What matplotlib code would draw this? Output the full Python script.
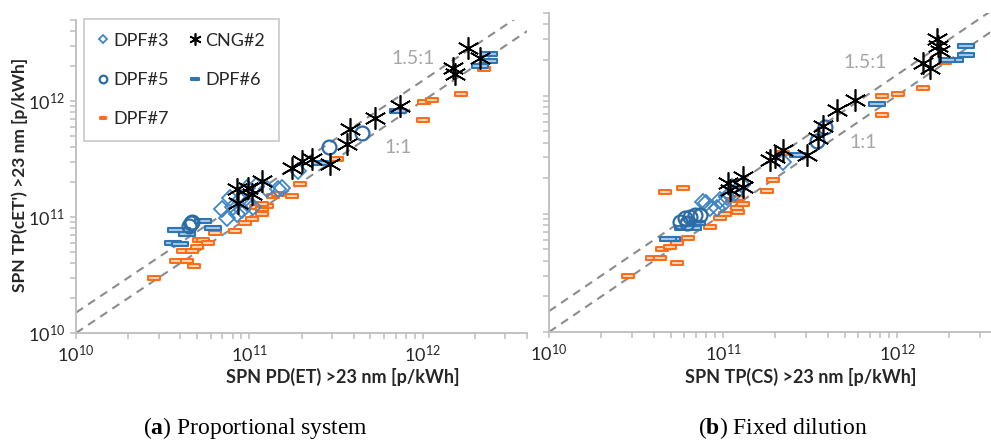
import numpy as np
import matplotlib
matplotlib.use("Agg")
import matplotlib.pyplot as plt
from matplotlib.path import Path
from matplotlib.ticker import LogLocator, LogFormatterSciNotation, NullFormatter

plt.rcParams["font.family"] = ["Lato", "DejaVu Sans"]
plt.rcParams["mathtext.fontset"] = "custom"
plt.rcParams["mathtext.default"] = "regular"
plt.rcParams["mathtext.bf"] = "Liberation Serif:bold"

# ---- (a) proportional system: x = PD(ET), y = TP(cET') ----
a_cng2_x = [1.82e12, 2.13e12, 1.49e12, 1.53e12, 7.36e11, 5.28e11, 3.79e11, 3.65e11,
            2.91e11, 2.29e11, 2.01e11, 1.76e11, 1.18e11, 9.8e10, 1.03e11, 8.5e10, 8.6e10]
a_cng2_y = [2.85e12, 2.34e12, 1.92e12, 1.71e12, 9.06e11, 7.15e11, 5.75e11, 4.28e11,
            2.88e11, 3.18e11, 3.05e11, 2.66e11, 2.06e11, 1.79e11, 1.59e11, 1.76e11, 1.33e11]
a_dpf3_x = [7.4e10, 8.0e10, 8.8e10, 7.7e10, 9.7e10, 1.1e11, 1.26e11, 1.46e11,
            9.7e10, 1.05e11, 8.5e10, 9.1e10, 1.9e11, 1.54e11, 7.0e10]
a_dpf3_y = [9.9e10, 1.21e11, 1.39e11, 1.47e11, 1.79e11, 1.86e11, 1.76e11, 1.76e11,
            1.31e11, 1.21e11, 1.07e11, 1.14e11, 2.51e11, 1.79e11, 1.18e11]
a_dpf5_x = [4.5e10, 4.6e10, 4.7e10, 2.9e11, 4.45e11]
a_dpf5_y = [8.3e10, 8.8e10, 9.0e10, 4.0e11, 5.3e11]
a_dpf6_x = [3.63e10, 3.97e10, 4.08e10, 3.8e10, 4.35e10, 5.4e10, 6.2e10,
            2.55e11, 7.18e11, 2.43e12, 2.43e12, 2.13e12]
a_dpf6_y = [5.93e10, 5.9e10, 7.8e10, 7.8e10, 7.2e10, 9.3e10, 8.1e10,
            2.94e11, 8.2e11, 2.53e12, 2.2e12, 2.0e12]
a_dpf7_x = [2.82e10, 3.77e10, 4.37e10, 4.78e10, 4.14e10, 4.67e10, 4.98e10, 5.12e10,
            5.4e10, 5.77e10, 6.3e10, 8.25e10, 9.4e10, 1.03e11, 1.1e11, 1.19e11,
            1.26e11, 1.19e11, 1.19e11, 1.37e11, 1.46e11, 1.76e11, 1.95e11, 3.19e11,
            1.0e12, 1.02e12, 1.13e12, 1.67e12, 2.27e12]
a_dpf7_y = [2.97e10, 4.15e10, 4.15e10, 3.76e10, 5.05e10, 5.05e10, 5.5e10, 6.4e10,
            6.4e10, 6.0e10, 7.35e10, 7.6e10, 8.95e10, 9.7e10, 1.21e11, 1.18e11,
            1.25e11, 1.07e11, 1.3e11, 1.53e11, 1.59e11, 1.53e11, 1.94e11, 3.18e11,
            6.9e11, 9.8e11, 1.02e12, 1.14e12, 1.9e12]

# ---- (b) fixed dilution: x = TP(CS), y = TP(cET') ----
b_cng2_x = [1.7e12, 1.72e12, 1.77e12, 1.41e12, 1.55e12, 5.74e11, 4.52e11, 3.76e11,
            3.5e11, 3.03e11, 2.21e11, 2.0e11, 1.87e11, 1.3e11, 1.07e11, 1.1e11, 1.3e11]
b_cng2_y = [3.03e12, 2.63e12, 2.4e12, 1.9e12, 1.72e12, 9.1e11, 7.5e11, 5.55e11,
            4.4e11, 3.12e11, 3.44e11, 3.0e11, 2.83e11, 2.03e11, 1.81e11, 1.58e11, 1.67e11]
b_dpf3_x = [7.67e10, 8.42e10, 9.24e10, 9.62e10, 1.05e11, 1.13e11, 1.29e11, 1.17e11,
            2.21e11, 8.0e10, 1.0e11]
b_dpf3_y = [1.25e11, 1.13e11, 1.13e11, 1.3e11, 1.38e11, 1.67e11, 1.74e11, 1.49e11,
            2.72e11, 1.23e11, 1.2e11]
b_dpf5_x = [5.66e10, 6.05e10, 6.46e10, 6.9e10, 7.38e10, 6.2e10, 3.47e11, 3.85e11]
b_dpf5_y = [8.47e10, 9.16e10, 9.34e10, 9.7e10, 9.7e10, 8.3e10, 4.17e11, 5.47e11]
b_dpf6_x = [5.1e10, 4.8e10, 5.9e10, 6.7e10, 7.1e10, 2.7e11, 7.67e11,
            2.15e12, 2.5e12, 2.5e12, 1.94e12]
b_dpf6_y = [6.1e10, 6.1e10, 7.55e10, 7.55e10, 8.3e10, 3.12e11, 8.55e11,
            2.01e12, 2.2e12, 2.63e12, 2.01e12]
b_dpf7_x = [2.84e10, 3.91e10, 4.34e10, 5.44e10, 4.46e10, 4.96e10, 5.44e10, 6.3e10,
            6.9e10, 8.4e10, 9.6e10, 1.03e11, 4.64e10, 5.9e10, 1.13e11, 1.22e11,
            1.2e11, 1.3e11, 1.22e11, 1.79e11, 1.94e11, 2.21e11, 8.2e11, 1.01e12,
            8.2e11, 1.41e12, 1.89e12]
b_dpf7_y = [2.97e10, 4.21e10, 4.21e10, 3.82e10, 5.0e10, 5.2e10, 5.64e10, 6.2e10,
            7.55e10, 7.7e10, 9.16e10, 9.9e10, 1.52e11, 1.64e11, 1.3e11, 1.35e11,
            1.13e11, 1.2e11, 1.03e11, 1.55e11, 1.92e11, 3.25e11, 1.0e12, 1.04e12,
            6.9e11, 1.17e12, 1.94e12]

# flat bar markers used for DPF#6 / DPF#7
def bar(h):
    return Path([(-1, -h), (1, -h), (1, h), (-1, h), (-1, -h)],
                [Path.MOVETO, Path.LINETO, Path.LINETO, Path.LINETO, Path.CLOSEPOLY])


axis_grey = "#BDBDBD"
blue = "#2E75B6"


def draw_panel(ax, cng, d3, d5, d6, d7, xmax):
    ax.set_xscale("log")
    ax.set_yscale("log")
    ax.set_xlim(1e10, xmax)
    ax.set_ylim(1e10, 5e12)

    # reference lines 1:1 and 1.5:1
    lx = np.array([1e10, 1e13])
    ax.plot(lx, lx, ls=(0, (4, 3)), color="#8C8C8C", lw=1.5, zorder=1)
    ax.plot(lx, 1.5 * lx, ls=(0, (4, 3)), color="#8C8C8C", lw=1.5, zorder=1)

    h7, = ax.plot(d7[0], d7[1], ls="none", marker=bar(0.42), ms=8,
                  mfc="#FCD3B6", mec="#FF6A13", mew=1.4, zorder=2, label="DPF#7")
    h6, = ax.plot(d6[0], d6[1], ls="none", marker=bar(0.3), ms=11,
                  mfc="#A9CBEA", mec=blue, mew=1.5, zorder=3, label="DPF#6")
    h3, = ax.plot(d3[0], d3[1], ls="none", marker="D", ms=8,
                  mfc="none", mec="#3F86C8", mew=1.3, zorder=4, label="DPF#3")
    h5, = ax.plot(d5[0], d5[1], ls="none", marker="o", ms=10,
                  mfc="none", mec="#2D6BA6", mew=1.6, zorder=5, label="DPF#5")
    hc, = ax.plot(cng[0], cng[1], ls="none", marker=(6, 2, 0), ms=16,
                  color="black", mew=1.2, zorder=6, label="CNG#2")

    for s in ["top", "right"]:
        ax.spines[s].set_visible(False)
    for s in ["left", "bottom"]:
        ax.spines[s].set_color(axis_grey)
        ax.spines[s].set_linewidth(1.3)
    ax.xaxis.set_major_locator(LogLocator(base=10, numticks=10))
    ax.yaxis.set_major_locator(LogLocator(base=10, numticks=10))
    ax.xaxis.set_minor_locator(LogLocator(base=10, subs=np.arange(2, 10), numticks=10))
    ax.yaxis.set_minor_locator(LogLocator(base=10, subs=np.arange(2, 10), numticks=10))
    ax.xaxis.set_minor_formatter(NullFormatter())
    ax.yaxis.set_minor_formatter(NullFormatter())
    ax.xaxis.set_major_formatter(LogFormatterSciNotation())
    ax.yaxis.set_major_formatter(LogFormatterSciNotation())
    ax.tick_params(which="both", direction="out", length=4, width=1.1,
                   color=axis_grey, labelsize=13, labelcolor="#262626", pad=4)
    return h3, h5, h7, hc, h6


fig = plt.figure(figsize=(9.91, 4.42), dpi=100)
ax1 = fig.add_axes([76 / 991, 1 - 333 / 442, (527 - 76) / 991, (333 - 20) / 442])
ax2 = fig.add_axes([549 / 991, 1 - 332 / 442, (991 - 549) / 991, (332 - 13) / 442])

handles = draw_panel(ax1, (a_cng2_x, a_cng2_y), (a_dpf3_x, a_dpf3_y), (a_dpf5_x, a_dpf5_y),
                     (a_dpf6_x, a_dpf6_y), (a_dpf7_x, a_dpf7_y), 4e12)
draw_panel(ax2, (b_cng2_x, b_cng2_y), (b_dpf3_x, b_dpf3_y), (b_dpf5_x, b_dpf5_y),
           (b_dpf6_x, b_dpf6_y), (b_dpf7_x, b_dpf7_y), 3.47e12)
ax2.tick_params(axis="y", which="both", labelleft=False)

leg = ax1.legend(handles=handles, ncol=2, loc="upper left",
                 bbox_to_anchor=(84 / 991, 1 - 19 / 442), bbox_transform=fig.transFigure,
                 fontsize=13, frameon=True, fancybox=False, markerscale=0.55,
                 handlelength=0.6, handletextpad=0.25, labelspacing=1.3,
                 columnspacing=1.2, borderpad=0.75, borderaxespad=0)
leg.get_frame().set_edgecolor("#BFBFBF")
leg.get_frame().set_linewidth(1.3)
for t in leg.get_texts():
    t.set_color("#262626")

# ratio annotations
for x, y, s in [(413, 58, "1.5:1"), (398, 148, "1:1"), (865, 63, "1.5:1"), (863, 143, "1:1")]:
    fig.text(x / 991, 1 - y / 442, s, ha="center", va="center", fontsize=14, color="#A6A6A6")

# axis titles
fig.text(20 / 991, 1 - 175 / 442, "SPN TP(cET') >23 nm [p/kWh]", rotation=90,
         ha="center", va="center", fontsize=12.5, fontweight="bold", color="#262626")
fig.text(343 / 991, 1 - 377 / 442, "SPN PD(ET) >23 nm [p/kWh]",
         ha="center", va="center", fontsize=13, fontweight="bold", color="#262626")
fig.text(801 / 991, 1 - 377 / 442, "SPN TP(CS) >23 nm [p/kWh]",
         ha="center", va="center", fontsize=13, fontweight="bold", color="#262626")

# sub-figure captions
fig.text(255 / 991, 1 - 428 / 442, r"($\mathbf{a}$) Proportional system", ha="center",
         va="center", fontsize=17, family="Liberation Serif")
fig.text(783 / 991, 1 - 428 / 442, r"($\mathbf{b}$) Fixed dilution", ha="center",
         va="center", fontsize=17, family="Liberation Serif")

fig.savefig("out.png", dpi=100)
